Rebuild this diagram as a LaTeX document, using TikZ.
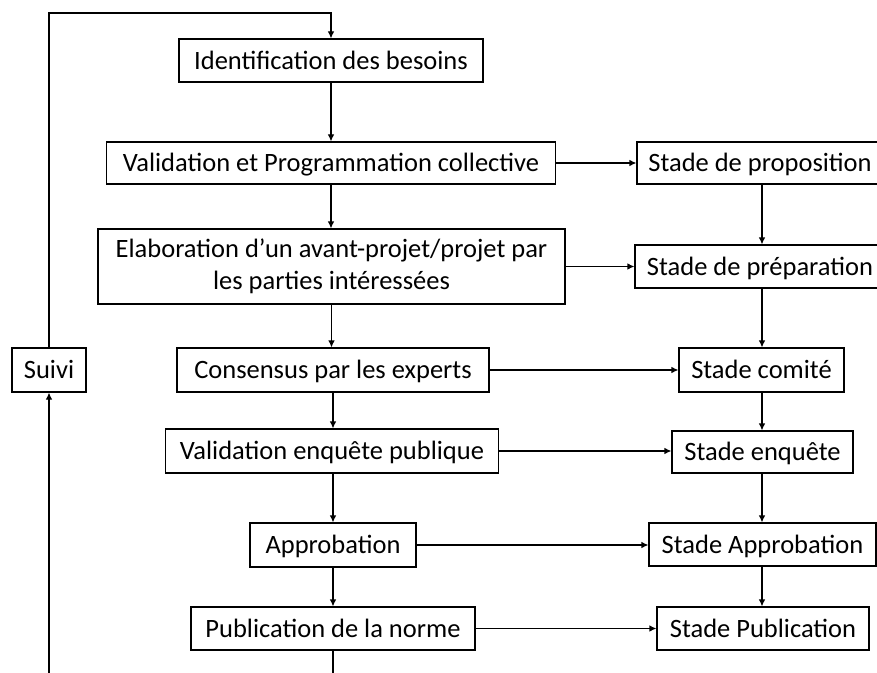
\documentclass[tikz,border=0pt]{standalone}
\usepackage{fontspec}
\setmainfont{Carlito}
\usetikzlibrary{arrows.meta}
\begin{document}
\begin{tikzpicture}[x=1bp,y=-1bp,
  box/.style={draw=black, line width=1.1bp, inner sep=0pt, align=center,
    font=\fontsize{26.5bp}{31.5bp}\selectfont},
  oneline/.style={box, text height=21.6bp, text depth=4.5bp},
  link/.style={draw=black, line width=1.1bp},
  arr/.style={link, -{Latex[length=7bp,width=6.5bp]}}]
\useasboundingbox (0,0) rectangle (877,673);
\clip (0,0) rectangle (877,673);

% main process column
\node[oneline, minimum width=304bp, minimum height=43bp] (ident) at (331,60.5) {Identification des besoins};
\node[oneline, minimum width=449bp, minimum height=42bp] (valid) at (331,163) {Validation et Programmation collective};
\node[box, minimum width=467bp, minimum height=75bp] (elab) at (331.5,266.5) {Elaboration d’un avant-projet/projet par\\les parties intéressées};
\node[oneline, minimum width=312bp, minimum height=44bp] (cons) at (333,370) {Consensus par les experts};
\node[oneline, minimum width=333bp, minimum height=44bp] (venq) at (332,451) {Validation enquête publique};
\node[oneline, minimum width=166bp, minimum height=44bp] (appr) at (333,545) {Approbation};
\node[oneline, minimum width=284bp, minimum height=43bp] (pub) at (333,628.5) {Publication de la norme};

% follow-up
\node[oneline, minimum width=74bp, minimum height=44bp] (suivi) at (49,370) {Suivi};

% stage column
\node[oneline, minimum width=246bp, minimum height=42bp] (sprop) at (760,163) {Stade de proposition};
\node[oneline, minimum width=250bp, minimum height=43bp] (sprep) at (760,266.5) {Stade de préparation};
\node[oneline, minimum width=165bp, minimum height=44bp] (scom) at (761.5,370) {Stade comité};
\node[oneline, minimum width=181bp, minimum height=42bp] (senq) at (762.5,452) {Stade enquête};
\node[oneline, minimum width=227bp, minimum height=43bp] (sappr) at (762.5,544.5) {Stade Approbation};
\node[oneline, minimum width=212bp, minimum height=43bp] (spub) at (763,628.5) {Stade Publication};

% vertical flow, main column
\draw[arr] (ident.south) -- (ident.south |- valid.north);
\draw[arr] (valid.south) -- (valid.south |- elab.north);
\draw[arr] (elab.south) -- (elab.south |- cons.north);
\draw[arr] (cons.south) -- (cons.south |- venq.north);
\draw[arr] (appr.north |- venq.south) -- (appr.north);
\draw[arr] (appr.south) -- (pub.north);

% vertical flow, stage column
\coordinate (sx) at (762,0);
\draw[arr] (sx |- sprop.south) -- (sx |- sprep.north);
\draw[arr] (sx |- sprep.south) -- (sx |- scom.north);
\draw[arr] (sx |- scom.south) -- (sx |- senq.north);
\draw[arr] (sx |- senq.south) -- (sx |- sappr.north);
\draw[arr] (sx |- sappr.south) -- (sx |- spub.north);

% links to the stages
\draw[arr] (valid.east) -- (valid.east -| sprop.west);
\draw[arr] (elab.east) -- (elab.east -| sprep.west);
\draw[arr] (cons.east) -- (cons.east -| scom.west);
\draw[arr] (venq.east) -- (venq.east -| senq.west);
\draw[arr] (appr.east) -- (appr.east -| sappr.west);
\draw[arr] (pub.east) -- (pub.east -| spub.west);

% feedback loop
\coordinate (loopbot) at (0,700);
\coordinate (looptop) at (0,13);
\draw[arr] (pub.south) -- (pub.south |- loopbot) -| (suivi.south);
\draw[arr] (suivi.north) -- (suivi.north |- looptop) -| (ident.north);
\end{tikzpicture}
\end{document}
